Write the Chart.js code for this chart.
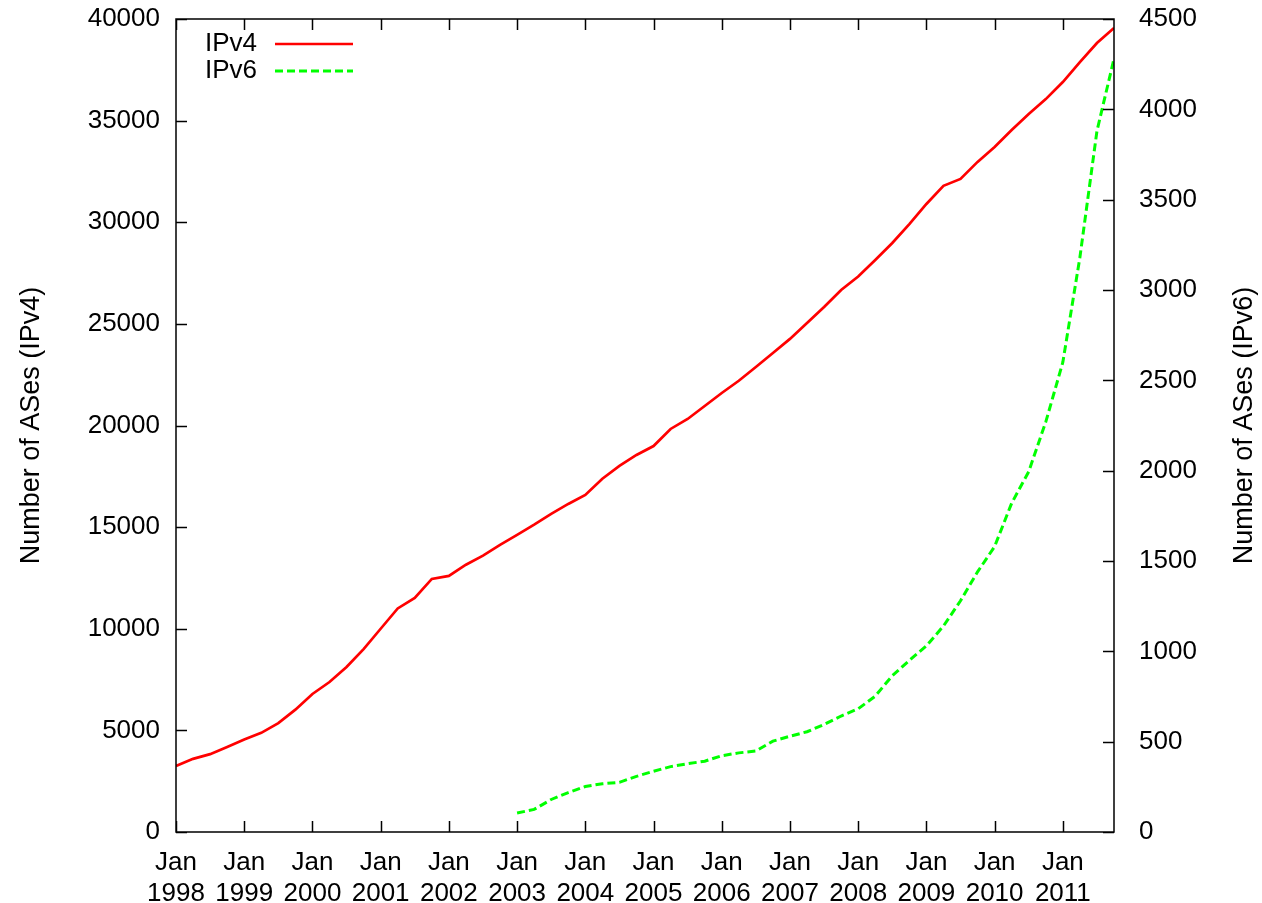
<!DOCTYPE html>
<html>
<head>
<meta charset="utf-8">
<script src="https://cdn.jsdelivr.net/npm/chart.js@4/dist/chart.umd.min.js"></script>
<style>
    html, body { margin: 0; padding: 0; background: #fff; }
    canvas { display: block; }
</style>
</head>
<body>
<canvas id="asChart" width="1262" height="903"></canvas>
<script>
// quarterly samples, Jan 1998 .. Oct 2011
const quarters = [
    '1998-01', '1998-04', '1998-07', '1998-10', '1999-01', '1999-04', '1999-07', '1999-10',
    '2000-01', '2000-04', '2000-07', '2000-10', '2001-01', '2001-04', '2001-07', '2001-10',
    '2002-01', '2002-04', '2002-07', '2002-10', '2003-01', '2003-04', '2003-07', '2003-10',
    '2004-01', '2004-04', '2004-07', '2004-10', '2005-01', '2005-04', '2005-07', '2005-10',
    '2006-01', '2006-04', '2006-07', '2006-10', '2007-01', '2007-04', '2007-07', '2007-10',
    '2008-01', '2008-04', '2008-07', '2008-10', '2009-01', '2009-04', '2009-07', '2009-10',
    '2010-01', '2010-04', '2010-07', '2010-10', '2011-01', '2011-04', '2011-07', '2011-10'
];
const ipv4 = [
    3250, 3600, 3830, 4180, 4550, 4880, 5360, 6020,
    6790, 7380, 8120, 9000, 10000, 11000, 11520, 12450,
    12600, 13150, 13600, 14130, 14620, 15120, 15650, 16140,
    16580, 17380, 18010, 18550, 18990, 19830, 20320, 20960,
    21600, 22200, 22880, 23570, 24260, 25040, 25830, 26670,
    27330, 28140, 28980, 29910, 30900, 31790, 32130, 32970,
    33700, 34540, 35330, 36060, 36900, 37880, 38820, 39560
];
// IPv6 starts in Jan 2003
const ipv6Quarters = quarters.slice(20);
const ipv6 = [
    105, 125, 180, 218, 252, 267, 275, 308,
    336, 362, 378, 392, 422, 438, 448, 503,
    530, 555, 595, 642, 682, 752, 865, 950,
    1030, 1140, 1280, 1440, 1580, 1820, 1995, 2270,
    2600, 3180, 3880, 4280
];
const firstYear = 1998;

function monthIndex(q) {
    let parts = q.split('-');
    return (parseInt(parts[0]) - firstYear) * 12 + parseInt(parts[1]) - 1;
}

function toPoints(qs, values) {
    return qs.map(function (q, i) {
        return {x: monthIndex(q), y: values[i]};
    });
}

const FONT = 'Liberation Sans, Arial, sans-serif';
const FONT_SIZE = 26;

// frame, inward ticks, axis titles and a gnuplot-style key
const framePlugin = {
    id: 'frame',
    afterDatasetsDraw(chart) {
        let ctx = chart.ctx;
        let area = chart.chartArea;
        let sx = chart.scales.x, sy = chart.scales.y, sy2 = chart.scales.y2;
        let tl = 11;
        ctx.save();
        ctx.strokeStyle = '#000';
        ctx.lineWidth = 1.5;
        ctx.beginPath();
        ctx.rect(area.left, area.top, area.right - area.left, area.bottom - area.top);
        sx.ticks.forEach(function (t) {
            let px = Math.round(sx.getPixelForValue(t.value)) + 0.5;
            ctx.moveTo(px, area.bottom);
            ctx.lineTo(px, area.bottom - tl);
            ctx.moveTo(px, area.top);
            ctx.lineTo(px, area.top + tl);
        });
        sy.ticks.forEach(function (t) {
            let py = Math.round(sy.getPixelForValue(t.value)) + 0.5;
            ctx.moveTo(area.left, py);
            ctx.lineTo(area.left + tl, py);
        });
        sy2.ticks.forEach(function (t) {
            let py = Math.round(sy2.getPixelForValue(t.value)) + 0.5;
            ctx.moveTo(area.right, py);
            ctx.lineTo(area.right - tl, py);
        });
        ctx.stroke();

        // axis titles, both read bottom to top
        let midY = (area.top + area.bottom) / 2;
        ctx.fillStyle = '#000';
        ctx.font = '27px ' + FONT;
        ctx.textAlign = 'center';
        ctx.textBaseline = 'middle';
        [[32, 'Number of ASes (IPv4)'], [1245, 'Number of ASes (IPv6)']].forEach(function (t) {
            ctx.save();
            ctx.translate(t[0], midY);
            ctx.rotate(-Math.PI / 2);
            ctx.fillText(t[1], 0, 0);
            ctx.restore();
        });

        // key: label on the left, line sample on the right
        ctx.font = FONT_SIZE + 'px ' + FONT;
        chart.data.datasets.forEach(function (ds, i) {
            let y = 44 + i * 27;
            ctx.textAlign = 'right';
            ctx.fillStyle = '#000';
            ctx.fillText(ds.label, 257, y);
            ctx.strokeStyle = ds.borderColor;
            ctx.lineWidth = ds.borderWidth;
            ctx.setLineDash(ds.borderDash || []);
            ctx.beginPath();
            ctx.moveTo(275, y);
            ctx.lineTo(353, y);
            ctx.stroke();
            ctx.setLineDash([]);
        });
        ctx.restore();
    }
};

function plainNumber(v) {
    return String(v);
}

new Chart(document.getElementById('asChart'), {
    type: 'line',
    data: {
        datasets: [{
            label: 'IPv4',
            data: toPoints(quarters, ipv4),
            yAxisID: 'y',
            borderColor: 'rgb(255, 0, 0)',
            borderWidth: 2.7,
            pointRadius: 0,
            tension: 0
        }, {
            label: 'IPv6',
            data: toPoints(ipv6Quarters, ipv6),
            yAxisID: 'y2',
            borderColor: 'rgb(0, 255, 0)',
            borderWidth: 3,
            borderDash: [8, 4],
            pointRadius: 0,
            tension: 0
        }]
    },
    options: {
        responsive: false,
        animation: false,
        layout: {padding: {top: 19, left: 0, right: 0, bottom: 0}},
        plugins: {
            legend: {display: false},
            tooltip: {enabled: false}
        },
        scales: {
            x: {
                type: 'linear',
                min: 0,
                max: monthIndex(quarters[quarters.length - 1]),
                afterBuildTicks: function (scale) {
                    let ticks = [];
                    for (let m = 0; m <= scale.max; m += 12) ticks.push({value: m});
                    scale.ticks = ticks;
                },
                afterFit: function (scale) {
                    scale.height = 71;
                    scale.paddingLeft = 0;
                    scale.paddingRight = 0;
                },
                grid: {display: false, drawTicks: false},
                border: {display: false},
                ticks: {
                    autoSkip: false,
                    maxRotation: 0,
                    padding: 15,
                    color: '#000',
                    font: {family: FONT, size: FONT_SIZE},
                    callback: function (v) { return ['Jan', String(firstYear + v / 12)]; }
                }
            },
            y: {
                position: 'left',
                min: 0,
                max: 40000,
                afterFit: function (scale) {
                    scale.width = 176;
                    scale.paddingTop = 0;
                    scale.paddingBottom = 0;
                },
                grid: {display: false, drawTicks: false},
                border: {display: false},
                ticks: {
                    stepSize: 5000,
                    padding: 16,
                    color: '#000',
                    font: {family: FONT, size: FONT_SIZE},
                    callback: plainNumber
                }
            },
            y2: {
                position: 'right',
                min: 0,
                max: 4500,
                afterFit: function (scale) {
                    scale.width = 148;
                    scale.paddingTop = 0;
                    scale.paddingBottom = 0;
                },
                grid: {display: false, drawTicks: false},
                border: {display: false},
                ticks: {
                    stepSize: 500,
                    padding: 25,
                    color: '#000',
                    font: {family: FONT, size: FONT_SIZE},
                    callback: plainNumber
                }
            }
        }
    },
    plugins: [framePlugin]
});
</script>
</body>
</html>
